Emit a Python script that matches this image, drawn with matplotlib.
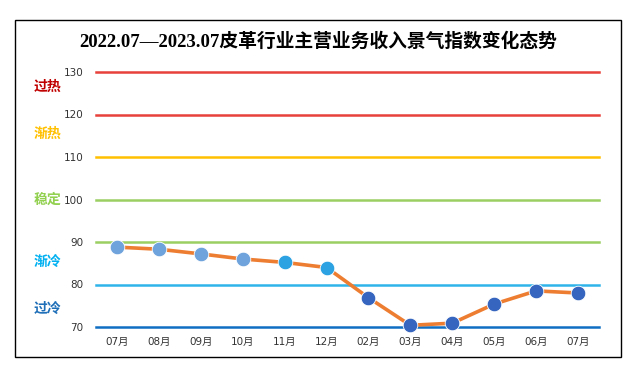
import matplotlib.pyplot as plt
from matplotlib.patches import Rectangle

months = ["07月", "08月", "09月", "10月", "11月", "12月",
          "02月", "03月", "04月", "05月", "06月", "07月"]
index_values = [88.8, 88.3, 87.2, 86.0, 85.2, 84.0, 76.9, 70.4, 70.9, 75.4, 78.5, 78.0]

levels = [130, 120, 110, 100, 90, 80, 70]
level_colors = ["#E8403A", "#E8403A", "#FFC000", "#9BCF62", "#9BCF62", "#2FB4EA", "#0F6EC2"]

zone_names = ["过热", "渐热", "稳定", "渐冷", "过冷"]
zone_pos = [126.5, 115.5, 100.0, 85.3, 74.3]
zone_colors = ["#C00000", "#FFC000", "#92D050", "#00B0F0", "#1F6FB8"]

marker_colors = ["#6FA3DC", "#6FA3DC", "#6FA3DC", "#6FA3DC", "#2CA2E2", "#2CA2E2",
                 "#3565BE", "#3565BE", "#3565BE", "#3565BE", "#3565BE", "#3565BE"]

cjk = ["Liberation Serif", "Noto Sans CJK SC"]

fig = plt.figure(figsize=(6.37, 3.78), dpi=100)
fig.patches.append(Rectangle((15 / 637, 1 - 357 / 378), 606 / 637, 337 / 378,
                             transform=fig.transFigure, fill=False,
                             edgecolor="black", linewidth=1.0))

ax = fig.add_axes([96 / 637, 1 - 327 / 378, 503 / 637, 255 / 378])
x = list(range(len(months)))

for lvl, col in zip(levels, level_colors):
    ax.axhline(lvl, color=col, linewidth=1.8, clip_on=False, zorder=1)

ax.plot(x, index_values, color="#ED7D31", linewidth=2.6, zorder=2, clip_on=False)
for xi, yi, c in zip(x, index_values, marker_colors):
    ax.plot(xi, yi, "o", markersize=10.5, color=c, markeredgecolor="white",
            markeredgewidth=0.6, zorder=3, clip_on=False)

ax.set_xlim(-0.5, len(months) - 0.5)
ax.set_ylim(70, 130)
ax.set_yticks(levels)
ax.set_yticklabels([str(v) for v in levels], fontsize=7.5, color="#333333")
ax.set_xticks(x)
ax.set_xticklabels(months, fontsize=7.5, color="#333333",
                   family=["DejaVu Sans", "Noto Sans CJK SC"])
ax.tick_params(axis="both", length=0)
ax.tick_params(axis="y", pad=9)
ax.tick_params(axis="x", pad=7)
for s in ax.spines.values():
    s.set_visible(False)

for name, pos, col in zip(zone_names, zone_pos, zone_colors):
    ax.text(-0.097, pos, name, transform=ax.get_yaxis_transform(), ha="center", va="center",
            fontsize=10, fontweight="bold", color=col, family=["Noto Sans CJK SC"])

fig.text(318 / 637, 1 - 42 / 378, "2022.07—2023.07皮革行业主营业务收入景气指数变化态势",
         ha="center", va="center", fontsize=13.5, fontweight="bold", family=cjk)

fig.savefig("out.png", dpi=100)
